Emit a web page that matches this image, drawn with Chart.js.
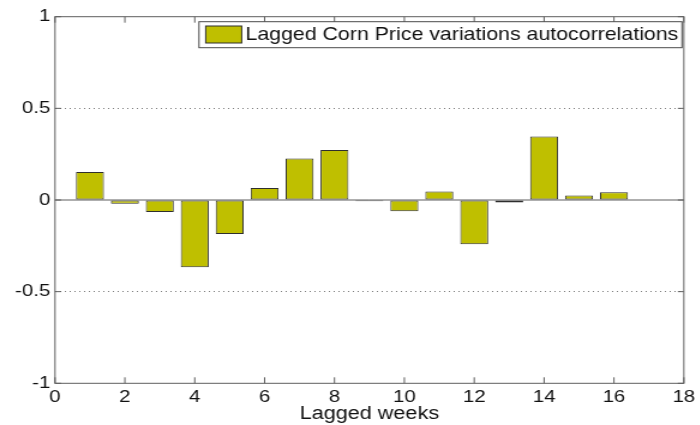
<!DOCTYPE html>
<html>
<head>
<meta charset="utf-8">
<script src="https://cdn.jsdelivr.net/npm/chart.js@4/dist/chart.umd.min.js"></script>
<style>
  html, body { margin: 0; padding: 0; background: #fff; overflow: hidden; }
  /* The figure is laid out narrower and widened horizontally, giving the wide lettering of the exported figure */
  #wrap { width: 583.333px; height: 425px; transform: scaleX(1.2); transform-origin: 0 0; }
</style>
</head>
<body>
<div id="wrap"><canvas id="c"></canvas></div>
<script>
// Lag (weeks) and autocorrelation of weekly corn price variations
const lags = [1, 2, 3, 4, 5, 6, 7, 8, 9, 10, 11, 12, 13, 14, 15, 16];
const autocorr = [0.153, -0.020, -0.065, -0.367, -0.185, 0.065, 0.227, 0.273,
                  -0.007, -0.062, 0.047, -0.242, -0.013, 0.347, 0.025, 0.042];
const seriesLabel = 'Lagged Corn Price variations autocorrelations';
const xTitle = 'Lagged weeks';
const xRange = [0, 18];
const yRange = [-1, 1];

const BAR_FILL = '#bfbf00';
const BAR_EDGE = '#2e2e2e';
const AXIS = '#5e5e5e';
const FONT = "'Liberation Sans', Arial, sans-serif";

// Solid zero baseline, drawn beneath the bars
const baselinePlugin = {
  id: 'baseline',
  beforeDatasetsDraw(chart) {
    const { ctx, chartArea: a, scales: { y } } = chart;
    const y0 = y.getPixelForValue(0);
    ctx.save();
    ctx.strokeStyle = AXIS;
    ctx.lineWidth = 1;
    ctx.beginPath();
    ctx.moveTo(a.left, y0); ctx.lineTo(a.right, y0);
    ctx.stroke();
    ctx.restore();
  }
};

// Box frame with inward ticks on all four sides
const framePlugin = {
  id: 'frame',
  afterDatasetsDraw(chart) {
    const { ctx, chartArea: a, scales: { x, y } } = chart;
    ctx.save();
    ctx.strokeStyle = AXIS;
    ctx.lineWidth = 1;
    ctx.strokeRect(a.left, a.top, a.right - a.left, a.bottom - a.top);
    ctx.beginPath();
    x.ticks.forEach(t => {
      const px = x.getPixelForValue(t.value);
      ctx.moveTo(px, a.bottom); ctx.lineTo(px, a.bottom - 6);
      ctx.moveTo(px, a.top); ctx.lineTo(px, a.top + 6);
    });
    y.ticks.forEach(t => {
      const py = y.getPixelForValue(t.value);
      ctx.moveTo(a.left, py); ctx.lineTo(a.left + 5, py);
      ctx.moveTo(a.right, py); ctx.lineTo(a.right - 5, py);
    });
    ctx.stroke();
    ctx.restore();
  }
};

// Boxed legend in the upper right corner of the plot
const legendBox = {
  id: 'legendBox',
  afterDraw(chart) {
    const { ctx } = chart;
    const ds = chart.data.datasets[0];
    ctx.save();
    ctx.fillStyle = '#fff';
    ctx.fillRect(165.8, 21.7, 402.5, 26);
    ctx.strokeStyle = '#4a4a4a';
    ctx.lineWidth = 1;
    ctx.strokeRect(165.8, 21.7, 402.5, 26);
    ctx.fillStyle = ds.backgroundColor;
    ctx.fillRect(171.4, 26, 30, 17);
    ctx.strokeStyle = ds.borderColor;
    ctx.strokeRect(171.4, 26, 30, 17);
    ctx.fillStyle = '#111';
    ctx.font = '17.8px ' + FONT;
    ctx.textBaseline = 'middle';
    ctx.textAlign = 'left';
    ctx.fillText(ds.label, 204.5, 35.5);
    ctx.restore();
  }
};

new Chart(document.getElementById('c'), {
  type: 'bar',
  data: {
    datasets: [{
      label: seriesLabel,
      data: lags.map((l, i) => ({ x: l, y: autocorr[i] })),
      backgroundColor: BAR_FILL,
      borderColor: BAR_EDGE,
      borderWidth: 1,
      borderSkipped: false,
      categoryPercentage: 0.8,
      barPercentage: 1.0
    }]
  },
  options: {
    responsive: true,
    maintainAspectRatio: false,
    animation: false,
    events: [],
    layout: { padding: { top: 16.7, right: 10.6, bottom: 0, left: 0 } },
    plugins: { legend: { display: false }, tooltip: { enabled: false } },
    scales: {
      x: {
        type: 'linear',
        min: xRange[0], max: xRange[1],
        offset: false,
        grid: { display: false, drawTicks: false },
        border: { display: false },
        ticks: { stepSize: 2, color: '#111', padding: 4, font: { family: FONT, size: 17 } },
        title: { display: true, text: xTitle, color: '#111', padding: { top: 0, bottom: 0 },
                 font: { family: FONT, size: 18 } },
        afterFit(s) { s.height = 41.7; }
      },
      y: {
        min: yRange[0], max: yRange[1],
        grid: {
          drawTicks: false,
          color: c => (Math.abs(Math.abs(c.tick.value) - 0.5) < 1e-9 ? '#7a7a7a' : 'rgba(0,0,0,0)'),
          lineWidth: 1
        },
        border: { display: false, dash: [1, 3] },
        ticks: {
          stepSize: 0.5, color: '#111', padding: 4, font: { family: FONT, size: 17 },
          callback: v => String(v)
        },
        afterFit(s) { s.width = 45.83; }
      }
    }
  },
  plugins: [baselinePlugin, framePlugin, legendBox]
});
</script>
</body>
</html>
